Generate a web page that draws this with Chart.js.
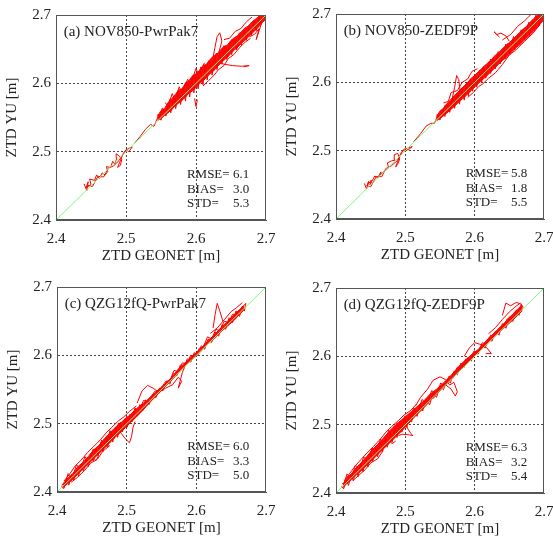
<!DOCTYPE html>
<html>
<head>
<meta charset="utf-8">
<script src="https://cdn.jsdelivr.net/npm/chart.js@4"></script>
<style>
html, body { margin: 0; padding: 0; background: #fff; overflow: hidden; }
#wrap { position: relative; width: 553px; height: 537px; overflow: hidden; }
canvas { position: absolute; }
</style>
</head>
<body>
<div id="wrap">
  <canvas id="pa" width="288" height="272" style="left:0px;top:0px"></canvas>
  <canvas id="pb" width="286" height="272" style="left:280px;top:-1px"></canvas>
  <canvas id="pc" width="287" height="272" style="left:1px;top:272px"></canvas>
  <canvas id="pd" width="286" height="272" style="left:280px;top:273px"></canvas>
</div>
<script>
// panel labels and statistics (mm)
const titles = ['(a) NOV850-PwrPak7', '(b) NOV850-ZEDF9P', '(c) QZG12fQ-PwrPak7', '(d) QZG12fQ-ZEDF9P'];
const rmse = [6.1, 5.8, 6.0, 6.3];
const bias = [3.0, 1.8, 3.3, 3.2];
const std = [5.3, 5.5, 5.0, 5.4];
const tickValues = [2.4, 2.5, 2.6, 2.7];
const diagX = [2.4, 2.7];
const diagY = [2.4, 2.7];

// outline of the dense part of each cloud: GEONET value, lowest and highest YU value
const bandAX  = [2.545,2.550,2.555,2.560,2.565,2.570,2.575,2.580,2.585,2.590,2.595,2.600,2.605,2.610,2.615,2.620,2.625,2.630,2.635,2.640,2.645,2.650,2.655,2.660,2.665,2.670,2.675,2.680,2.685,2.690,2.695,2.700];
const bandALo = [2.546,2.548,2.553,2.557,2.561,2.567,2.571,2.575,2.580,2.586,2.589,2.594,2.600,2.603,2.609,2.614,2.618,2.624,2.629,2.634,2.638,2.644,2.649,2.653,2.659,2.663,2.668,2.673,2.678,2.683,2.689,2.694];
const bandAHi = [2.552,2.560,2.563,2.572,2.577,2.583,2.590,2.592,2.600,2.604,2.611,2.614,2.619,2.626,2.628,2.635,2.640,2.643,2.649,2.654,2.656,2.663,2.667,2.670,2.676,2.681,2.684,2.690,2.694,2.698,2.700,2.700];

const bandBX  = [2.545,2.550,2.555,2.560,2.565,2.570,2.575,2.580,2.585,2.590,2.595,2.600,2.605,2.610,2.615,2.620,2.625,2.630,2.635,2.640,2.645,2.650,2.655,2.660,2.665,2.670,2.675,2.680,2.685,2.690,2.695,2.700];
const bandBLo = [2.544,2.547,2.551,2.555,2.560,2.564,2.569,2.574,2.578,2.583,2.588,2.593,2.598,2.603,2.607,2.612,2.617,2.622,2.627,2.632,2.636,2.641,2.646,2.651,2.655,2.660,2.665,2.670,2.675,2.680,2.686,2.691];
const bandBHi = [2.550,2.558,2.562,2.569,2.574,2.580,2.585,2.590,2.595,2.600,2.606,2.610,2.615,2.620,2.625,2.629,2.634,2.640,2.644,2.649,2.654,2.658,2.663,2.668,2.673,2.678,2.682,2.688,2.693,2.698,2.700,2.700];

const bandCX  = [2.408,2.415,2.422,2.430,2.438,2.445,2.452,2.460,2.468,2.475,2.482,2.490,2.498,2.505,2.512,2.520,2.528,2.535,2.545,2.555,2.565,2.575,2.585,2.595,2.605,2.615,2.625,2.635,2.645,2.655,2.662,2.668];
const bandCLo = [2.406,2.412,2.418,2.426,2.434,2.441,2.448,2.456,2.464,2.471,2.479,2.486,2.494,2.501,2.508,2.516,2.525,2.533,2.543,2.554,2.564,2.575,2.586,2.595,2.604,2.615,2.624,2.634,2.643,2.652,2.660,2.666];
const bandCHi = [2.411,2.420,2.426,2.437,2.444,2.452,2.461,2.468,2.478,2.485,2.493,2.500,2.507,2.513,2.520,2.527,2.533,2.540,2.549,2.558,2.568,2.581,2.590,2.600,2.608,2.620,2.629,2.640,2.650,2.660,2.667,2.672];

const bandDX  = [2.410,2.415,2.422,2.430,2.438,2.445,2.452,2.460,2.468,2.475,2.482,2.490,2.498,2.505,2.512,2.520,2.528,2.535,2.545,2.555,2.565,2.575,2.585,2.595,2.605,2.615,2.625,2.635,2.645,2.655,2.662,2.668];
const bandDLo = [2.408,2.413,2.419,2.427,2.434,2.441,2.448,2.456,2.464,2.471,2.478,2.486,2.494,2.502,2.510,2.518,2.526,2.534,2.544,2.555,2.565,2.576,2.586,2.596,2.605,2.615,2.625,2.635,2.644,2.653,2.660,2.666];
const bandDHi = [2.413,2.421,2.428,2.438,2.446,2.454,2.463,2.471,2.480,2.488,2.496,2.503,2.510,2.516,2.522,2.529,2.536,2.544,2.552,2.561,2.571,2.583,2.593,2.602,2.610,2.621,2.631,2.641,2.651,2.662,2.669,2.675];

// ZTD pairs [GEONET, YU], null = break in the line
const ptsA = [
  [2.440,2.453],[2.444,2.443],[2.446,2.456],[2.443,2.447],[2.450,2.452],[2.448,2.460],[2.455,2.458],[2.458,2.466],[2.462,2.461],[2.466,2.469],[2.470,2.466],[2.474,2.471],[2.472,2.478],[2.478,2.477],[2.481,2.486],[2.484,2.482],[2.487,2.491],[2.486,2.497],[2.490,2.494],[2.494,2.489],[2.492,2.480],[2.488,2.477],[2.496,2.497],[2.500,2.503],[2.504,2.500],[2.509,2.507],[2.502,2.504],[2.497,2.498],[2.490,2.487],[2.482,2.479],[2.475,2.476],[2.468,2.463],[2.460,2.464],[2.452,2.449],[2.445,2.451],
  null,
  [2.512,2.512],[2.520,2.522],[2.528,2.533],[2.535,2.540],[2.540,2.537],[2.546,2.552],
  [2.546,2.555],[2.550,2.546],[2.554,2.562],[2.557,2.552],[2.561,2.570],[2.564,2.557],[2.568,2.578],[2.571,2.563],[2.575,2.586],[2.578,2.569],[2.582,2.595],[2.585,2.574],[2.588,2.601],[2.591,2.580],[2.594,2.608],[2.597,2.586],[2.600,2.614],[2.603,2.592],[2.607,2.620],[2.610,2.598],[2.613,2.626],[2.616,2.605],[2.620,2.632],[2.623,2.612],[2.627,2.639],[2.630,2.620],[2.634,2.646],[2.637,2.628],[2.641,2.653],[2.644,2.635],[2.648,2.659],[2.651,2.642],[2.655,2.665],[2.658,2.649],[2.662,2.671],[2.665,2.656],[2.669,2.678],[2.672,2.663],[2.676,2.685],[2.679,2.670],[2.683,2.691],[2.686,2.677],[2.690,2.698],[2.693,2.686],[2.697,2.700],[2.700,2.696],
  [2.694,2.697],[2.689,2.684],[2.684,2.690],[2.678,2.676],[2.673,2.681],[2.667,2.668],[2.662,2.674],[2.656,2.659],[2.651,2.663],[2.645,2.648],[2.640,2.655],[2.634,2.637],[2.629,2.644],[2.623,2.625],[2.618,2.633],[2.612,2.612],[2.607,2.624],[2.601,2.600],[2.596,2.612],[2.590,2.589],[2.585,2.601],[2.579,2.578],[2.574,2.589],[2.568,2.566],[2.563,2.577],[2.557,2.556],[2.552,2.564],[2.547,2.549],
  null,
  [2.556,2.572],[2.560,2.566],[2.566,2.585],[2.570,2.575],[2.576,2.595],[2.580,2.586],[2.588,2.606],[2.592,2.598],[2.600,2.622],[2.604,2.612],[2.612,2.630],
  null,
  [2.610,2.596],[2.618,2.604],[2.626,2.612],[2.632,2.620],[2.640,2.626],[2.646,2.636],[2.654,2.642],[2.662,2.652],[2.670,2.660],[2.678,2.666],
  null,
  [2.640,2.664],[2.648,2.666],[2.656,2.676],[2.664,2.680],[2.672,2.690],[2.680,2.697],
  null,
  [2.622,2.633],[2.630,2.631],[2.640,2.628],[2.652,2.626],[2.665,2.625],[2.676,2.626],[2.668,2.624],
  null,
  [2.624,2.636],[2.627,2.652],[2.630,2.668],[2.634,2.674],[2.637,2.662],[2.633,2.646],
  null,
  [2.676,2.668],[2.684,2.672],[2.690,2.680],[2.686,2.664],[2.693,2.686],
  null,
  [2.598,2.578],[2.600,2.566],[2.602,2.576]
];

const ptsB = [
  [2.441,2.452],[2.444,2.444],[2.447,2.455],[2.445,2.449],[2.451,2.457],[2.449,2.450],[2.456,2.463],[2.460,2.460],[2.465,2.469],[2.463,2.464],[2.470,2.470],[2.476,2.475],[2.474,2.482],[2.480,2.485],[2.485,2.486],[2.484,2.494],[2.489,2.496],[2.492,2.488],[2.489,2.480],[2.486,2.476],[2.494,2.497],[2.499,2.503],[2.504,2.501],[2.510,2.506],[2.502,2.503],[2.496,2.499],[2.488,2.485],[2.480,2.478],[2.472,2.474],[2.466,2.462],[2.458,2.462],[2.450,2.447],[2.444,2.449],
  null,
  [2.512,2.513],[2.522,2.525],[2.530,2.536],[2.537,2.540],[2.542,2.540],[2.546,2.550],
  [2.546,2.553],[2.550,2.545],[2.554,2.560],[2.557,2.550],[2.561,2.568],[2.564,2.556],[2.568,2.576],[2.571,2.562],[2.575,2.584],[2.578,2.568],[2.582,2.592],[2.585,2.574],[2.588,2.598],[2.591,2.580],[2.594,2.605],[2.597,2.587],[2.600,2.611],[2.603,2.593],[2.607,2.618],[2.610,2.599],[2.613,2.623],[2.616,2.606],[2.620,2.630],[2.623,2.613],[2.627,2.637],[2.630,2.620],[2.634,2.643],[2.637,2.627],[2.641,2.650],[2.644,2.634],[2.648,2.657],[2.651,2.641],[2.655,2.663],[2.658,2.648],[2.662,2.670],[2.665,2.655],[2.669,2.676],[2.672,2.662],[2.676,2.683],[2.679,2.669],[2.683,2.690],[2.686,2.676],[2.690,2.697],[2.693,2.683],[2.697,2.700],[2.700,2.690],
  [2.698,2.699],[2.692,2.690],[2.688,2.698],[2.683,2.679],[2.678,2.688],[2.672,2.666],[2.667,2.677],[2.661,2.655],[2.656,2.667],[2.650,2.645],[2.645,2.656],[2.639,2.634],[2.634,2.645],[2.628,2.622],[2.623,2.634],[2.617,2.611],[2.612,2.622],[2.606,2.600],[2.601,2.611],[2.595,2.590],[2.590,2.600],[2.584,2.579],[2.579,2.589],[2.573,2.568],[2.568,2.578],[2.562,2.558],[2.557,2.566],[2.551,2.548],[2.547,2.553],
  null,
  [2.555,2.570],[2.562,2.572],[2.566,2.585],[2.575,2.588],[2.582,2.600],[2.590,2.605],[2.596,2.616],[2.604,2.620],
  null,
  [2.590,2.578],[2.598,2.585],[2.606,2.594],[2.612,2.598],[2.620,2.606],[2.630,2.614],[2.640,2.626],[2.650,2.640],[2.660,2.648],[2.672,2.660],[2.684,2.672],[2.694,2.684],
  null,
  [2.640,2.662],[2.652,2.670],[2.662,2.682],[2.672,2.690],[2.682,2.700],
  null,
  [2.568,2.578],[2.571,2.592],[2.574,2.610],[2.577,2.604],[2.579,2.588],
  null,
  [2.650,2.660],[2.645,2.668],[2.638,2.672],[2.632,2.670],[2.628,2.674],[2.636,2.666],
  null,
  [2.690,2.700],[2.696,2.694],[2.700,2.697]
];

const ptsC = [
  [2.406,2.409],[2.410,2.405],[2.414,2.418],[2.417,2.410],[2.421,2.426],[2.424,2.417],[2.428,2.432],[2.431,2.423],[2.435,2.441],[2.438,2.430],[2.442,2.450],[2.445,2.437],[2.449,2.457],[2.452,2.445],[2.456,2.464],[2.459,2.452],[2.463,2.472],[2.466,2.459],[2.470,2.480],[2.473,2.466],[2.477,2.487],[2.480,2.473],[2.484,2.495],[2.487,2.480],[2.491,2.502],[2.494,2.488],[2.498,2.508],[2.501,2.495],[2.505,2.514],[2.508,2.503],[2.512,2.521],[2.515,2.511],[2.519,2.528],[2.523,2.519],[2.527,2.535],[2.532,2.528],[2.537,2.543],[2.542,2.538],[2.547,2.552],[2.552,2.548],[2.557,2.562],[2.562,2.558],[2.567,2.574],[2.572,2.570],[2.577,2.586],[2.582,2.581],[2.587,2.595],[2.592,2.590],[2.597,2.604],[2.602,2.600],[2.607,2.614],[2.612,2.609],[2.617,2.624],[2.622,2.619],[2.627,2.634],[2.632,2.628],[2.637,2.645],[2.642,2.638],[2.647,2.655],[2.652,2.648],[2.657,2.665],[2.662,2.657],[2.666,2.672],[2.669,2.665],[2.671,2.676],
  [2.664,2.668],[2.658,2.660],[2.652,2.660],[2.646,2.648],[2.640,2.650],[2.634,2.636],[2.628,2.638],[2.622,2.624],[2.616,2.627],[2.610,2.612],[2.604,2.610],[2.598,2.597],[2.592,2.600],[2.586,2.588],[2.580,2.589],[2.574,2.576],[2.568,2.578],[2.562,2.563],[2.556,2.562],[2.548,2.550],[2.540,2.547],[2.532,2.532],[2.524,2.534],[2.518,2.516],[2.512,2.523],[2.506,2.503],[2.500,2.511],[2.494,2.490],[2.488,2.500],[2.482,2.478],[2.476,2.490],[2.470,2.466],[2.464,2.476],[2.458,2.455],[2.452,2.463],[2.446,2.443],[2.440,2.452],[2.434,2.432],[2.428,2.440],[2.422,2.420],[2.416,2.427],[2.410,2.409],[2.407,2.412],
  null,
  [2.410,2.416],[2.418,2.426],[2.426,2.438],[2.434,2.446],[2.444,2.458],[2.452,2.466],[2.462,2.476],[2.470,2.486],[2.478,2.494],[2.488,2.504],[2.496,2.510],[2.504,2.518],[2.514,2.526],
  null,
  [2.420,2.414],[2.430,2.422],[2.440,2.432],[2.448,2.442],[2.458,2.448],[2.466,2.460],[2.476,2.468],
  null,
  [2.620,2.632],[2.630,2.640],[2.640,2.652],[2.650,2.664],[2.658,2.670],[2.666,2.677],
  null,
  [2.488,2.496],[2.492,2.486],[2.498,2.478],[2.504,2.472],[2.507,2.481],[2.509,2.494],[2.512,2.503],
  null,
  [2.470,2.482],[2.477,2.478],[2.482,2.484],
  null,
  [2.452,2.450],[2.456,2.446],[2.459,2.452],
  null,
  [2.515,2.530],[2.522,2.548],[2.530,2.556],[2.538,2.552],[2.546,2.546],[2.556,2.552],[2.566,2.557],[2.574,2.568],[2.579,2.562],[2.574,2.552],[2.580,2.575],[2.586,2.590],
  null,
  [2.624,2.640],[2.627,2.660],[2.630,2.676],[2.634,2.664],[2.638,2.650]
];

const ptsD = [
  [2.408,2.410],[2.411,2.406],[2.415,2.419],[2.418,2.411],[2.422,2.427],[2.425,2.418],[2.429,2.434],[2.432,2.424],[2.436,2.443],[2.439,2.431],[2.443,2.451],[2.446,2.438],[2.450,2.459],[2.453,2.446],[2.457,2.466],[2.460,2.453],[2.464,2.474],[2.467,2.460],[2.471,2.482],[2.474,2.467],[2.478,2.490],[2.481,2.474],[2.485,2.497],[2.488,2.481],[2.492,2.505],[2.495,2.489],[2.499,2.512],[2.502,2.496],[2.506,2.516],[2.509,2.504],[2.513,2.523],[2.517,2.512],[2.521,2.530],[2.525,2.520],[2.530,2.538],[2.535,2.529],[2.540,2.546],[2.545,2.540],[2.550,2.556],[2.555,2.551],[2.560,2.566],[2.565,2.561],[2.570,2.578],[2.575,2.573],[2.580,2.590],[2.585,2.584],[2.590,2.598],[2.595,2.593],[2.600,2.607],[2.605,2.603],[2.610,2.617],[2.615,2.612],[2.620,2.627],[2.625,2.622],[2.630,2.637],[2.635,2.631],[2.640,2.648],[2.645,2.641],[2.650,2.658],[2.655,2.651],[2.660,2.668],[2.664,2.660],[2.667,2.676],[2.670,2.672],
  [2.665,2.666],[2.659,2.662],[2.653,2.653],[2.647,2.655],[2.641,2.643],[2.635,2.641],[2.629,2.629],[2.623,2.631],[2.617,2.617],[2.611,2.620],[2.605,2.606],[2.599,2.608],[2.593,2.594],[2.587,2.596],[2.581,2.582],[2.575,2.584],[2.569,2.568],[2.563,2.571],[2.557,2.556],[2.551,2.561],[2.545,2.544],[2.538,2.550],[2.531,2.530],[2.524,2.537],[2.518,2.517],[2.512,2.525],[2.506,2.505],[2.500,2.513],[2.494,2.492],[2.488,2.503],[2.482,2.481],[2.476,2.492],[2.470,2.468],[2.464,2.479],[2.458,2.457],[2.452,2.466],[2.446,2.445],[2.440,2.453],[2.434,2.434],[2.428,2.441],[2.422,2.421],[2.416,2.428],[2.411,2.412],[2.409,2.414],
  null,
  [2.412,2.418],[2.420,2.429],[2.428,2.440],[2.436,2.449],[2.446,2.460],[2.454,2.468],[2.464,2.479],[2.472,2.489],[2.480,2.497],[2.490,2.506],[2.498,2.514],[2.508,2.521],[2.516,2.530],
  null,
  [2.424,2.418],[2.432,2.425],[2.442,2.434],[2.450,2.444],[2.460,2.450],[2.468,2.462],
  null,
  [2.620,2.633],[2.630,2.642],[2.640,2.654],[2.650,2.665],[2.658,2.672],[2.666,2.678],
  null,
  [2.500,2.505],[2.503,2.495],[2.508,2.487],[2.511,2.484],[2.506,2.485],[2.496,2.486],[2.490,2.484],
  null,
  [2.476,2.478],[2.481,2.472],[2.486,2.476],
  null,
  [2.515,2.528],[2.522,2.540],[2.532,2.552],[2.540,2.565],[2.550,2.570],[2.558,2.566],[2.564,2.558],[2.570,2.562],[2.575,2.548],[2.572,2.542],[2.566,2.552],[2.556,2.560],[2.548,2.548],[2.540,2.538],
  null,
  [2.585,2.600],[2.592,2.612],[2.600,2.620],[2.610,2.617],[2.618,2.612],[2.624,2.604],[2.616,2.604],
  null,
  [2.640,2.660],[2.645,2.678],[2.652,2.674],[2.660,2.679],[2.668,2.676]
];

const serif = "'Liberation Serif', 'DejaVu Serif', serif";
const ink = '#222';

function inner(v) {
  return Math.abs(v - 2.5) < 1e-6 || Math.abs(v - 2.6) < 1e-6;
}

// frame on all four sides plus the panel label and statistics
const annot = {
  id: 'annot',
  afterDraw(chart, args, opts) {
    const {ctx, chartArea: a, scales: {x, y}} = chart;
    ctx.save();
    ctx.strokeStyle = '#555';
    ctx.lineWidth = 1;
    ctx.strokeRect(Math.round(a.left) + 0.5, Math.round(a.top) + 0.5, Math.round(a.width) - 1, Math.round(a.height) - 1);
    ctx.fillStyle = ink;
    ctx.textBaseline = 'middle';
    ctx.textAlign = 'left';
    ctx.font = '15px ' + serif;
    ctx.fillText(opts.title, x.getPixelForValue(2.411), y.getPixelForValue(2.675));
    ctx.font = '13px ' + serif;
    const rows = [['RMSE=', opts.rmse, 2.466], ['BIAS=', opts.bias, 2.444], ['STD=', opts.std, 2.424]];
    rows.forEach(r => {
      ctx.textAlign = 'left';
      ctx.fillText(r[0], x.getPixelForValue(2.587), y.getPixelForValue(r[2]));
      ctx.textAlign = 'right';
      ctx.fillText(r[1].toFixed(1), x.getPixelForValue(2.676), y.getPixelForValue(r[2]));
    });
    ctx.restore();
  }
};

function axis(label, horizontal) {
  return {
    type: 'linear',
    min: 2.4,
    max: 2.7,
    afterBuildTicks: s => { s.ticks = tickValues.map(v => ({value: v})); },
    afterFit: s => { if (horizontal) s.height = 52; else s.width = 56; },
    ticks: {
      padding: horizontal ? 10 : 5,
      color: ink,
      font: {family: serif, size: 15},
      callback: v => v.toFixed(1)
    },
    grid: {
      drawTicks: false,
      lineWidth: 1,
      color: c => (c.tick && inner(c.tick.value)) ? '#444' : 'rgba(0,0,0,0)'
    },
    border: {color: '#555', dash: [2, 2]},
    title: {
      display: true,
      text: label,
      color: ink,
      font: {family: serif, size: 15},
      padding: horizontal ? {top: 0, bottom: 7} : {top: 3, bottom: 0}
    }
  };
}

function pairs(xs, ys) {
  return xs.map((v, k) => ({x: v, y: ys[k]}));
}

// closed outline: along the lower edge, then back along the upper edge
function outline(xs, lo, hi) {
  return pairs(xs, lo).concat(pairs(xs, hi).reverse());
}

function makePanel(id, pts, bx, blo, bhi, i) {
  const line = pts.map(p => p ? {x: p[0], y: p[1]} : {x: null, y: null});
  new Chart(document.getElementById(id), {
    type: 'scatter',
    data: {
      datasets: [
        {data: pairs(diagX, diagY), showLine: true, borderColor: '#7cf77c', borderWidth: 1, pointRadius: 0, order: 0},
        {data: line, showLine: true, spanGaps: false, borderColor: '#ff0000', borderWidth: 1, pointRadius: 0, order: 1},
        {data: outline(bx, blo, bhi), showLine: true, fill: 'shape', backgroundColor: '#ff1010',
         borderColor: '#ff0000', borderWidth: 1, pointRadius: 0, order: 2}
      ]
    },
    options: {
      responsive: false,
      animation: false,
      events: [],
      layout: {padding: {left: 0, right: 22, top: 15, bottom: 0}},
      plugins: {
        legend: {display: false},
        tooltip: {enabled: false},
        annot: {title: titles[i], rmse: rmse[i], bias: bias[i], std: std[i]}
      },
      scales: {
        x: axis('ZTD GEONET [m]', true),
        y: axis('ZTD YU [m]', false)
      }
    },
    plugins: [annot]
  });
}

makePanel('pa', ptsA, bandAX, bandALo, bandAHi, 0);
makePanel('pb', ptsB, bandBX, bandBLo, bandBHi, 1);
makePanel('pc', ptsC, bandCX, bandCLo, bandCHi, 2);
makePanel('pd', ptsD, bandDX, bandDLo, bandDHi, 3);
</script>
</body>
</html>
